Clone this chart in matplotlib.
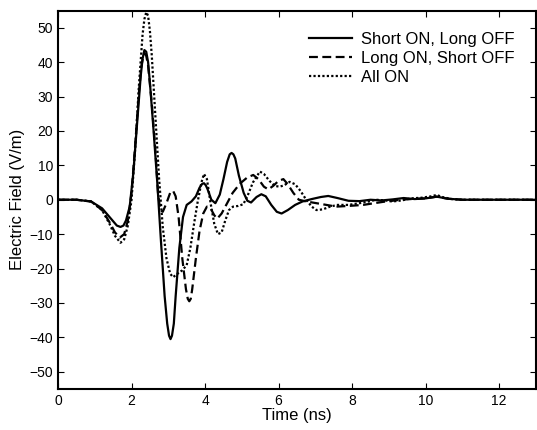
import matplotlib
matplotlib.use("Agg")
import matplotlib.pyplot as plt

plt.rcParams['font.family'] = ['Liberation Sans', 'DejaVu Sans']

# Series: Short ON, Long OFF
t_short = [0, 0.5, 0.9, 1.2, 1.4, 1.6, 1.7, 1.78, 1.85, 1.95, 2.05, 2.15, 2.25, 2.3, 2.35, 2.4,
           2.45, 2.5, 2.6, 2.7, 2.8, 2.9, 2.97, 3.02, 3.06, 3.1, 3.15, 3.2, 3.3, 3.4, 3.5,
           3.63, 3.75, 3.85, 3.92, 3.97, 4.02, 4.07, 4.17, 4.28, 4.4, 4.5, 4.6, 4.67, 4.72,
           4.77, 4.82, 4.92, 5.05, 5.15, 5.25, 5.4, 5.53, 5.65, 5.8, 5.95, 6.08, 6.25, 6.45,
           6.65, 6.9, 7.15, 7.35, 7.6, 7.9, 8.2, 8.5, 8.8, 9.1, 9.4, 9.7, 10.0, 10.3, 10.6,
           11.0, 13.0]
e_short = [0, 0, -0.5, -2.5, -5, -7.5, -7.9, -7.5, -6, -2, 8, 22, 36, 41, 43.5, 43,
           40, 34, 20, 5, -12, -28, -36, -39.5, -40.5, -39.5, -36, -28, -14, -5, -1.5,
           -0.5, 1, 3.5, 4.6, 4.8, 4.2, 3, 0, -1, 1.5, 6, 11, 13.2, 13.6,
           13.2, 12, 7, 2, -0.3, -0.8, 0.8, 1.6, 1, -1.5, -3.5, -4, -3, -1.5,
           -0.5, 0.2, 0.8, 1.1, 0.5, -0.3, -0.4, 0, -0.2, 0.1, 0.5, 0.2, 0.4, 0.9, 0.3,
           0, 0]

# Series: Long ON, Short OFF
t_long = [0, 0.5, 0.9, 1.2, 1.4, 1.55, 1.68, 1.8, 1.9, 2.0, 2.1, 2.2, 2.27, 2.32, 2.36, 2.4,
          2.45, 2.55, 2.65, 2.72, 2.78, 2.85, 2.95, 3.05, 3.13, 3.2, 3.28, 3.38, 3.48,
          3.53, 3.57, 3.61, 3.65, 3.75, 3.85, 3.95, 4.05, 4.15, 4.25, 4.33, 4.45, 4.6,
          4.75, 4.95, 5.15, 5.31, 5.45, 5.6, 5.72, 5.85, 6.0, 6.13, 6.25, 6.4, 6.55, 6.75,
          7.03, 7.3, 7.57, 7.9, 8.3, 8.6, 8.85, 9.1, 9.3, 9.6, 10.0, 10.3, 10.6, 11.0, 13.0]
e_long = [0, 0, -0.5, -3, -6.5, -9.5, -11, -10, -6, 2, 16, 31, 39, 41.8, 42.5, 41.8,
          39, 28, 14, 2, -3, -3.5, -1, 2, 2.6, 1, -5, -17, -26,
          -28.8, -29.5, -28.8, -26, -17, -9, -4, -2, -2.5, -4.5, -5.5, -4, -1,
          2, 4.7, 6.5, 7.2, 6, 3.8, 3, 4, 5.5, 6, 4.5, 2, 0, -0.5,
          -1, -1.5, -2, -1.8, -1.5, -1, -0.6, -0.3, 0, 0.2, 0.4, 0.9, 0.3, 0, 0]

# Series: All ON
t_all = [0, 0.5, 0.9, 1.2, 1.4, 1.55, 1.7, 1.8, 1.9, 2.0, 2.1, 2.2, 2.3, 2.35, 2.4, 2.45,
         2.5, 2.55, 2.65, 2.75, 2.85, 2.95, 3.05, 3.13, 3.25, 3.38, 3.5, 3.6, 3.7, 3.8,
         3.9, 3.97, 4.05, 4.15, 4.25, 4.35, 4.45, 4.55, 4.65, 4.76, 4.9, 5.04, 5.15, 5.3,
         5.49, 5.6, 5.75, 5.9, 6.03, 6.15, 6.3, 6.45, 6.6, 6.75, 6.9, 7.03, 7.2, 7.4,
         7.6, 7.9, 8.2, 8.45, 8.66, 8.9, 9.1, 9.35, 9.6, 9.9, 10.15, 10.3, 10.45, 10.7,
         11.0, 13.0]
e_all = [0, 0, -0.5, -3, -7, -10.5, -12.5, -11.5, -7.5, 0, 15, 33, 48, 52.5, 54.5, 53.5,
         49, 42, 24, 6, -8, -17, -21.5, -22.5, -21.5, -20.5, -19, -14, -7, -0.5,
         5, 7.5, 6, -1, -7, -10, -9.5, -6, -3, -2, -1.8, -1.3, 1, 5,
         8.2, 7.5, 5.5, 4, 3.8, 4.2, 5.2, 4.5, 2.5, 0, -2, -3, -2.8, -2,
         -1.5, -1.5, -1, -0.5, 0, -0.2, -0.5, -0.2, 0.4, 0.6, 1, 1.4, 0.8, 0.2,
         0, 0]

labels = ['Short ON, Long OFF', 'Long ON, Short OFF', 'All ON']
xticks = [0, 2, 4, 6, 8, 10, 12]
yticks = [-50, -40, -30, -20, -10, 0, 10, 20, 30, 40, 50]

fig = plt.figure(figsize=(5.37, 4.30), dpi=100)
ax = fig.add_axes([58 / 537, 41 / 430, 478 / 537, 378.5 / 430])

ax.plot(t_short, e_short, color='black', linestyle='-', linewidth=1.6, label=labels[0])
ax.plot(t_long, e_long, color='black', linestyle=(0, (4, 2)), linewidth=1.6, label=labels[1])
ax.plot(t_all, e_all, color='black', linestyle=(0, (1, 1)), linewidth=1.6, label=labels[2])

ax.set_xlim(0, 13)
ax.set_ylim(-55, 55)
ax.set_xticks(xticks)
ax.set_yticks(yticks)
ax.tick_params(direction='in', top=True, right=True, length=4, width=0.8,
               labelsize=10, colors='black')
for s in ax.spines.values():
    s.set_linewidth(1.5)

ax.set_xlabel('Time (ns)', fontsize=12, labelpad=0)
ax.set_ylabel('Electric Field (V/m)', fontsize=12, labelpad=3)

leg = ax.legend(loc='upper left', bbox_to_anchor=(309 / 537, 1 - 32 / 430),
                bbox_transform=fig.transFigure, frameon=False, fontsize=12,
                handlelength=2.6, handletextpad=0.5, labelspacing=0.25,
                borderpad=0, borderaxespad=0)

fig.savefig('out.png', dpi=100)
